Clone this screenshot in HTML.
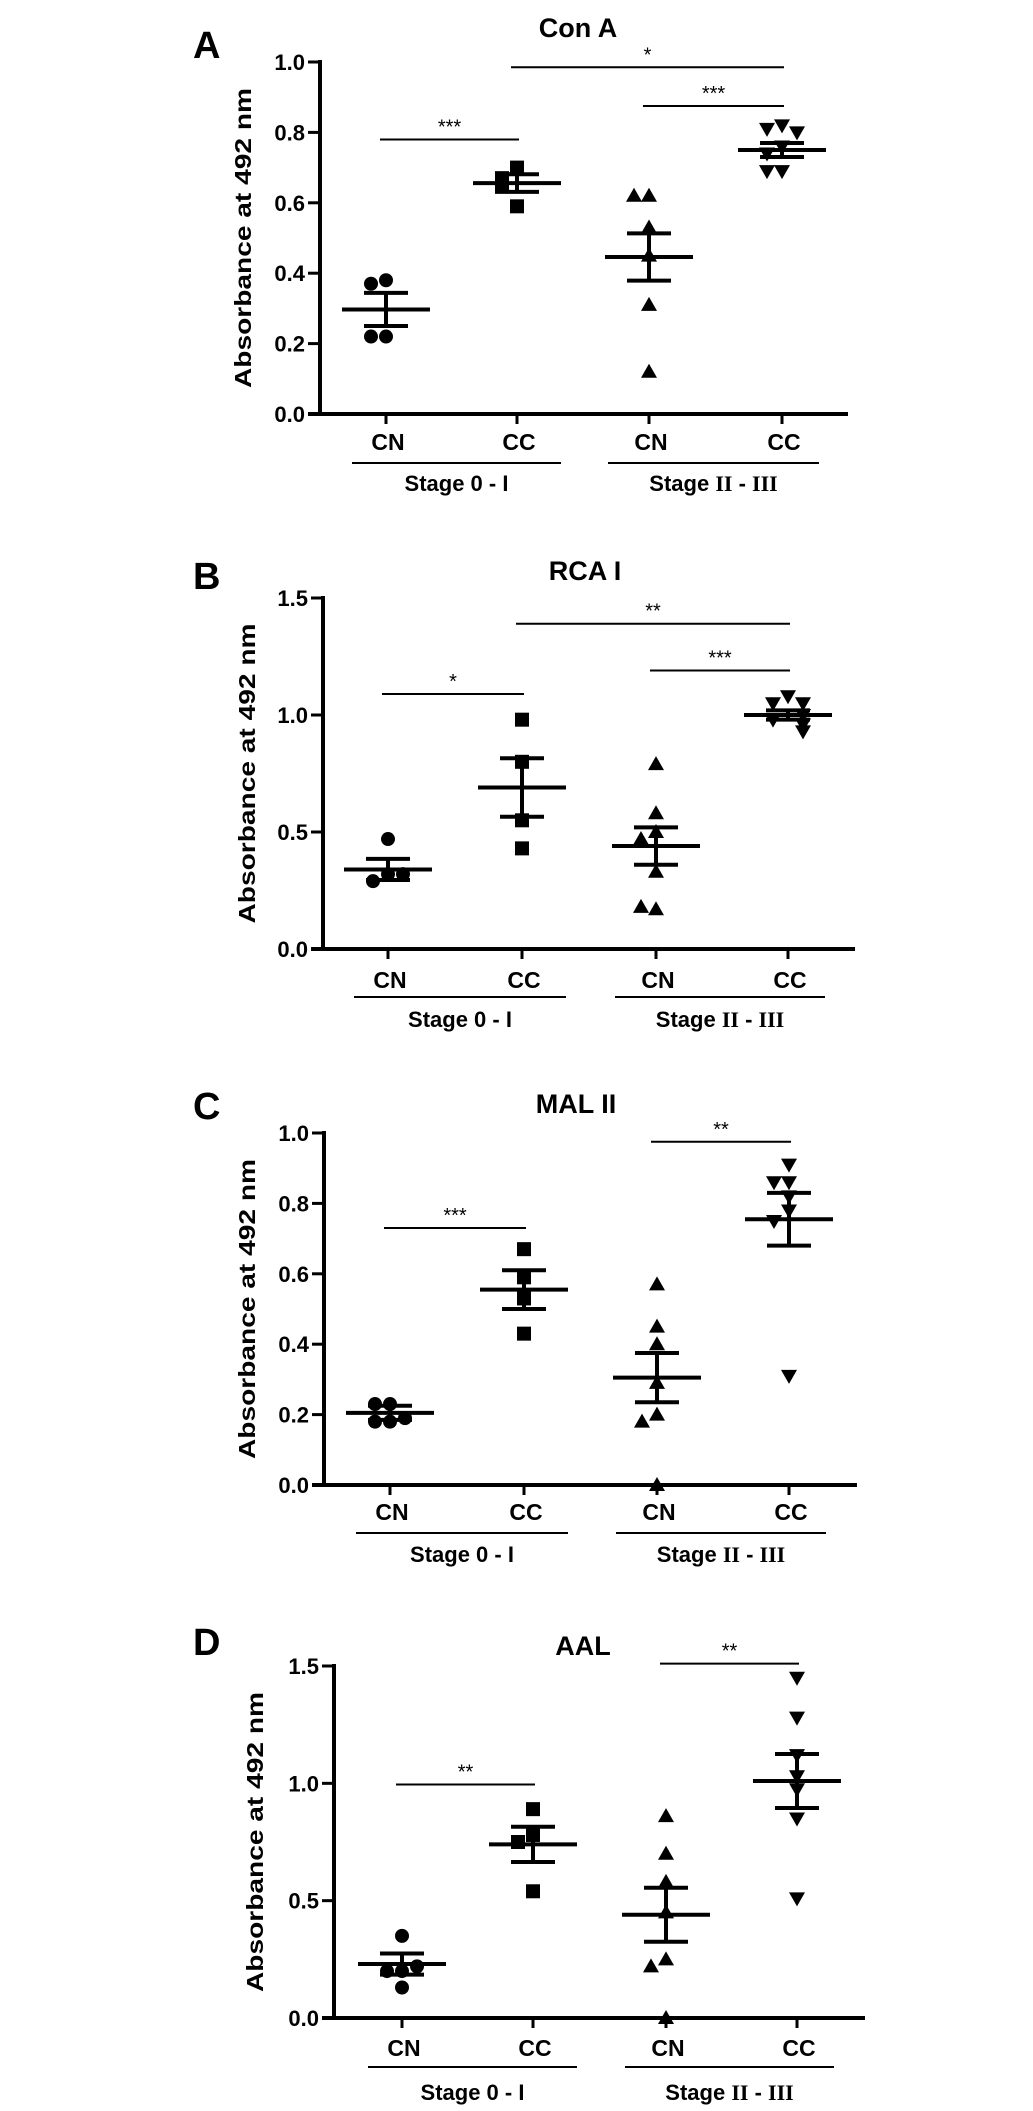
<!DOCTYPE html>
<html><head><meta charset="utf-8"><style>
html,body{margin:0;padding:0;background:#fff;}
svg{display:block;}
text{font-family:"Liberation Sans",sans-serif;fill:#000;}
</style></head><body>
<svg id="fig" width="1033" height="2111" viewBox="0 0 1033 2111" xmlns="http://www.w3.org/2000/svg"></svg>
<script>
// ---- data ----
const categories = ["CN", "CC", "CN", "CC"];
const groupLabels = ["Stage 0 - I", "Stage II - III"];
const panelTitles = ["Con A", "RCA I", "MAL II", "AAL"];
const panelLetters = ["A", "B", "C", "D"];

const conA_CN1 = [0.38, 0.37, 0.22, 0.22];
const conA_CC1 = [0.70, 0.67, 0.65, 0.59];
const conA_CN2 = [0.62, 0.62, 0.53, 0.45, 0.31, 0.12];
const conA_CC2 = [0.82, 0.81, 0.80, 0.76, 0.74, 0.69, 0.69];
const conA_mean = [0.297, 0.656, 0.446, 0.75];
const conA_sem = [0.047, 0.025, 0.067, 0.02];

const rca_CN1 = [0.47, 0.32, 0.29, 0.32];
const rca_CC1 = [0.98, 0.80, 0.55, 0.43];
const rca_CN2 = [0.79, 0.58, 0.50, 0.47, 0.33, 0.17, 0.18];
const rca_CC2 = [1.08, 1.05, 1.05, 1.00, 0.98, 0.96, 0.93];
const rca_mean = [0.34, 0.69, 0.44, 1.00];
const rca_sem = [0.045, 0.125, 0.08, 0.02];

const mal_CN1 = [0.23, 0.23, 0.18, 0.18, 0.19];
const mal_CC1 = [0.67, 0.59, 0.53, 0.43];
const mal_CN2 = [0.57, 0.45, 0.40, 0.29, 0.20, 0.18, 0.0];
const mal_CC2 = [0.91, 0.86, 0.86, 0.82, 0.78, 0.75, 0.31];
const mal_mean = [0.205, 0.555, 0.305, 0.755];
const mal_sem = [0.02, 0.055, 0.07, 0.075];

const aal_CN1 = [0.35, 0.20, 0.20, 0.13, 0.22];
const aal_CC1 = [0.89, 0.78, 0.75, 0.54];
const aal_CN2 = [0.86, 0.70, 0.58, 0.45, 0.25, 0.22, 0.0];
const aal_CC2 = [1.45, 1.28, 1.12, 1.03, 0.975, 0.85, 0.51];
const aal_mean = [0.23, 0.74, 0.44, 1.01];
const aal_sem = [0.045, 0.075, 0.115, 0.115];

const yTicksSmall = [0, 0.2, 0.4, 0.6, 0.8, 1.0];
const yTickLabelsSmall = ["0.0", "0.2", "0.4", "0.6", "0.8", "1.0"];
const yTicksBig = [0, 0.5, 1.0, 1.5];
const yTickLabelsBig = ["0.0", "0.5", "1.0", "1.5"];

// significance: [fromGroup, toGroup, value-level, label]
const sigA = [[0, 1, 0.78, "***"], [1, 3, 0.985, "*"], [2, 3, 0.875, "***"]];
const sigB = [[0, 1, 1.09, "*"], [1, 3, 1.39, "**"], [2, 3, 1.19, "***"]];
const sigC = [[0, 1, 0.73, "***"], [2, 3, 0.975, "**"]];
const sigD = [[0, 1, 0.995, "**"], [2, 3, 1.51, "**"]];

// ---- layout ----
const panels = [
  {groups:[conA_CN1,conA_CC1,conA_CN2,conA_CC2], mean:conA_mean, sem:conA_sem, sig:sigA, ticks:yTicksSmall, tl:yTickLabelsSmall, ymax:1.0,
   ax:320, y0:414, yTop:62, xs:[386,517,649,782], xEnd:848, titleX:578, titleY:37, letterY:58, catY:450, ulY:463, stageY:491, yTitleX:243},
  {groups:[rca_CN1,rca_CC1,rca_CN2,rca_CC2], mean:rca_mean, sem:rca_sem, sig:sigB, ticks:yTicksBig, tl:yTickLabelsBig, ymax:1.5,
   ax:323, y0:949, yTop:598, xs:[388,522,656,788], xEnd:855, titleX:585, titleY:580, letterY:589, catY:988, ulY:997, stageY:1027, yTitleX:247},
  {groups:[mal_CN1,mal_CC1,mal_CN2,mal_CC2], mean:mal_mean, sem:mal_sem, sig:sigC, ticks:yTicksSmall, tl:yTickLabelsSmall, ymax:1.0,
   ax:324, y0:1485, yTop:1133, xs:[390,524,657,789], xEnd:857, titleX:576, titleY:1113, letterY:1119, catY:1520, ulY:1533, stageY:1562, yTitleX:247},
  {groups:[aal_CN1,aal_CC1,aal_CN2,aal_CC2], mean:aal_mean, sem:aal_sem, sig:sigD, ticks:yTicksBig, tl:yTickLabelsBig, ymax:1.5,
   ax:334, y0:2018, yTop:1666, xs:[402,533,666,797], xEnd:865, titleX:583, titleY:1655, letterY:1655, catY:2056, ulY:2067, stageY:2100, yTitleX:255}
];

const NS = "http://www.w3.org/2000/svg";
const svg = document.getElementById("fig");
function mk(tag, attrs, parent) {
  const e = document.createElementNS(NS, tag);
  for (const k in attrs) e.setAttribute(k, attrs[k]);
  (parent || svg).appendChild(e);
  return e;
}

panels.forEach((p, pi) => {
  const g = mk("g", {});
  
  
  const yS = v => p.y0 - (v / p.ymax) * (p.y0 - p.yTop);

  const letter = mk("text", {x:193, y:p.letterY, "font-family":"Liberation Serif, serif", "font-weight":"bold", "font-size":"38"}, g);
  letter.textContent = panelLetters[pi];
  
  

  const title = mk("text", {x:p.titleX, y:p.titleY, "text-anchor":"middle", "font-weight":"bold", "font-size":"27"}, g);
  title.textContent = panelTitles[pi];
  
  

  const ytl = mk("text", {x:0, y:0, "text-anchor":"middle", "font-weight":"bold", "font-size":"23",
    transform:`translate(${p.yTitleX + 8},${(p.y0 + p.yTop) / 2}) rotate(-90)`, textLength:"300", lengthAdjust:"spacingAndGlyphs"}, g);
  ytl.textContent = "Absorbance at 492 nm";
  
  

  const yAxis = mk("line", {x1:p.ax, y1:p.yTop - 2, x2:p.ax, y2:p.y0 + 2, stroke:"#000", "stroke-width":4}, g);
  
  
  const xAxis = mk("line", {x1:p.ax - 12, y1:p.y0, x2:p.xEnd, y2:p.y0, stroke:"#000", "stroke-width":4}, g);
  
  

  p.ticks.forEach((t, i) => {
    const y = yS(t);
    const tk = mk("line", {x1:p.ax - 12, y1:y, x2:p.ax, y2:y, stroke:"#000", "stroke-width":3}, g);
    
    
    const lb = mk("text", {x:p.ax - 15, y:y + 8, "text-anchor":"end", "font-weight":"bold", "font-size":"22"}, g);
    lb.textContent = p.tl[i];
    
    
  });

  p.xs.forEach((x, i) => {
    const tk = mk("line", {x1:x, y1:p.y0, x2:x, y2:p.y0 + 10, stroke:"#000", "stroke-width":3}, g);
    
    
    const lb = mk("text", {x:x + 2, y:p.catY, "text-anchor":"middle", "font-weight":"bold", "font-size":"23"}, g);
    lb.textContent = categories[i];
    
    
  });

  const spans = [[p.xs[0] - 34, p.xs[1] + 44], [p.xs[2] - 41, p.xs[3] + 37]];
  spans.forEach((s, i) => {
    const ul = mk("line", {x1:s[0], y1:p.ulY, x2:s[1], y2:p.ulY, stroke:"#000", "stroke-width":2}, g);
    
    
    const st = mk("text", {x:(s[0] + s[1]) / 2, y:p.stageY, "text-anchor":"middle", "font-weight":"bold", "font-size":"22"}, g);
    if (i === 0) { st.textContent = groupLabels[0]; }
    else {
      const a = mk("tspan", {}, st); a.textContent = "Stage ";
      const b = mk("tspan", {"font-family":"Liberation Serif, serif"}, st); b.textContent = "II";
      const c = mk("tspan", {}, st); c.textContent = " - ";
      const d = mk("tspan", {"font-family":"Liberation Serif, serif"}, st); d.textContent = "III";
    }
    
    
  });

  p.groups.forEach((vals, gi) => {
    const cx = p.xs[gi];
    const placed = [];
    vals.forEach(v => {
      const y = yS(v);
      const near = placed.filter(q => Math.abs(q - y) < 12).length;
      placed.push(y);
      const off = near === 0 ? 0 : (near % 2 ? -1 : 1) * Math.ceil(near / 2) * 15;
      const x = cx + off;
      let m;
      if (gi === 0) m = mk("circle", {cx:x, cy:y, r:7}, g);
      else if (gi === 1) m = mk("rect", {x:x - 7, y:y - 7, width:14, height:14}, g);
      else if (gi === 2) m = mk("polygon", {points:`${x},${y - 8} ${x - 8},${y + 6} ${x + 8},${y + 6}`}, g);
      else m = mk("polygon", {points:`${x},${y + 8} ${x - 8},${y - 6} ${x + 8},${y - 6}`}, g);
      m.setAttribute("fill", "#000");
      
      
    });
    const my = yS(p.mean[gi]), hy = yS(p.mean[gi] + p.sem[gi]), ly = yS(p.mean[gi] - p.sem[gi]);
    const ml = mk("line", {x1:cx - 44, y1:my, x2:cx + 44, y2:my, stroke:"#000", "stroke-width":4}, g);
    
    
    const vl = mk("line", {x1:cx, y1:hy, x2:cx, y2:ly, stroke:"#000", "stroke-width":4}, g);
    
    
    [hy, ly].forEach(yy => {
      const c = mk("line", {x1:cx - 22, y1:yy, x2:cx + 22, y2:yy, stroke:"#000", "stroke-width":4}, g);
      
      
    });
  });

  p.sig.forEach(s => {
    const x1 = p.xs[s[0]] - 6, x2 = p.xs[s[1]] + 2, y = yS(s[2]);
    const l = mk("line", {x1:x1, y1:y, x2:x2, y2:y, stroke:"#000", "stroke-width":2}, g);
    
    
    const t = mk("text", {x:(x1 + x2) / 2, y:y - 6, "text-anchor":"middle", "font-size":"20"}, g);
    t.textContent = s[3];
    
    
  });
});
</script>
</body></html>
